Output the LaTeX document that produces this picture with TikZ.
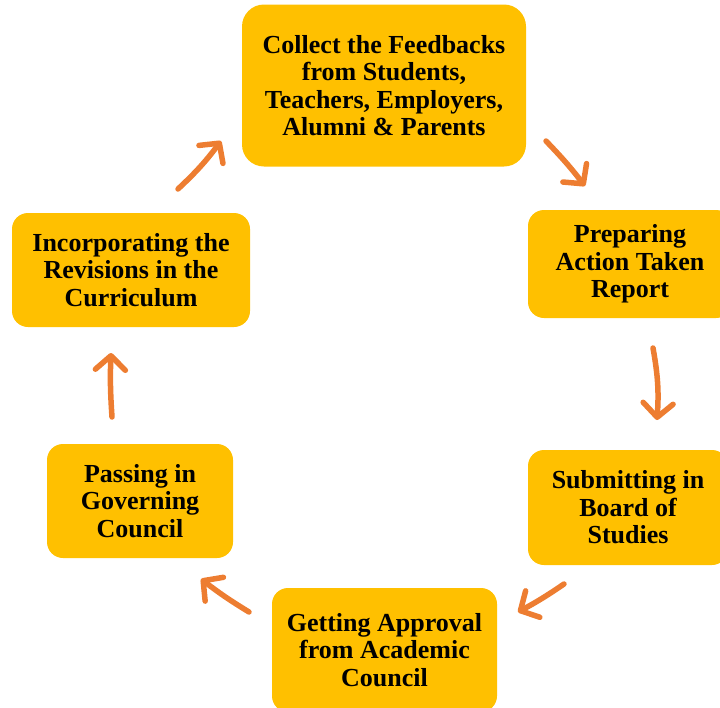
\documentclass[tikz,border=0pt]{standalone}
\usepackage{fontspec}
\setmainfont{Liberation Serif}
\usetikzlibrary{arrows.meta}
\definecolor{boxgold}{HTML}{FFC000}
\definecolor{arroworange}{HTML}{ED7D31}
\tikzset{
  stepbox/.style={fill=boxgold, draw=none, rounded corners=16pt, align=center,
    font=\fontsize{26}{27.5}\selectfont\bfseries, inner sep=0pt},
  cyclearrow/.style={draw=arroworange, line width=5.5pt, line cap=round,
    -{Straight Barb[length=14pt,width=30pt,round]}}
}
\begin{document}
\begin{tikzpicture}[x=1pt,y=-1pt]
\useasboundingbox (0,0) rectangle (720,707);
\clip (0,0) rectangle (720,707);
\node[stepbox, rounded corners=22pt, minimum width=284pt, minimum height=162pt] (collect) at (384,85.5)
  {Collect the Feedbacks\\from Students,\\Teachers, Employers,\\Alumni \& Parents};
\node[stepbox, minimum width=204pt, minimum height=108pt] (prepare) at (630,264)
  {Preparing\\Action Taken\\Report};
\node[stepbox, minimum width=200pt, minimum height=115pt] (submit) at (628,507.5)
  {Submitting in\\Board of\\Studies};
\node[stepbox, minimum width=225pt, minimum height=124pt] (approval) at (384.5,650)
  {Getting Approval\\from Academic\\Council};
\node[stepbox, minimum width=186pt, minimum height=114pt] (passing) at (140,501)
  {Passing in\\Governing\\Council};
\node[stepbox, minimum width=238pt, minimum height=114pt] (incorp) at (131,270)
  {Incorporating the\\Revisions in the\\Curriculum};

\coordinate (a1s) at (546,141); \coordinate (a1e) at (585,186);
\coordinate (a2s) at (653,348); \coordinate (a2e) at (657,420);
\coordinate (a3s) at (564,584); \coordinate (a3e) at (518,612);
\coordinate (a4s) at (249,612); \coordinate (a4e) at (201,579);
\coordinate (a5s) at (112,417); \coordinate (a5e) at (111,353);
\coordinate (a6s) at (178,189); \coordinate (a6e) at (221,141);

\draw[cyclearrow] (a1s) to[bend left=3] (a1e);
\draw[cyclearrow] (a2s) to[bend left=7] (a2e);
\draw[cyclearrow] (a3s) to[bend left=3] (a3e);
\draw[cyclearrow] (a4s) to[bend left=3] (a4e);
\draw[cyclearrow] (a5s) to[bend left=3] (a5e);
\draw[cyclearrow] (a6s) to[bend right=5] (a6e);
\end{tikzpicture}
\end{document}
